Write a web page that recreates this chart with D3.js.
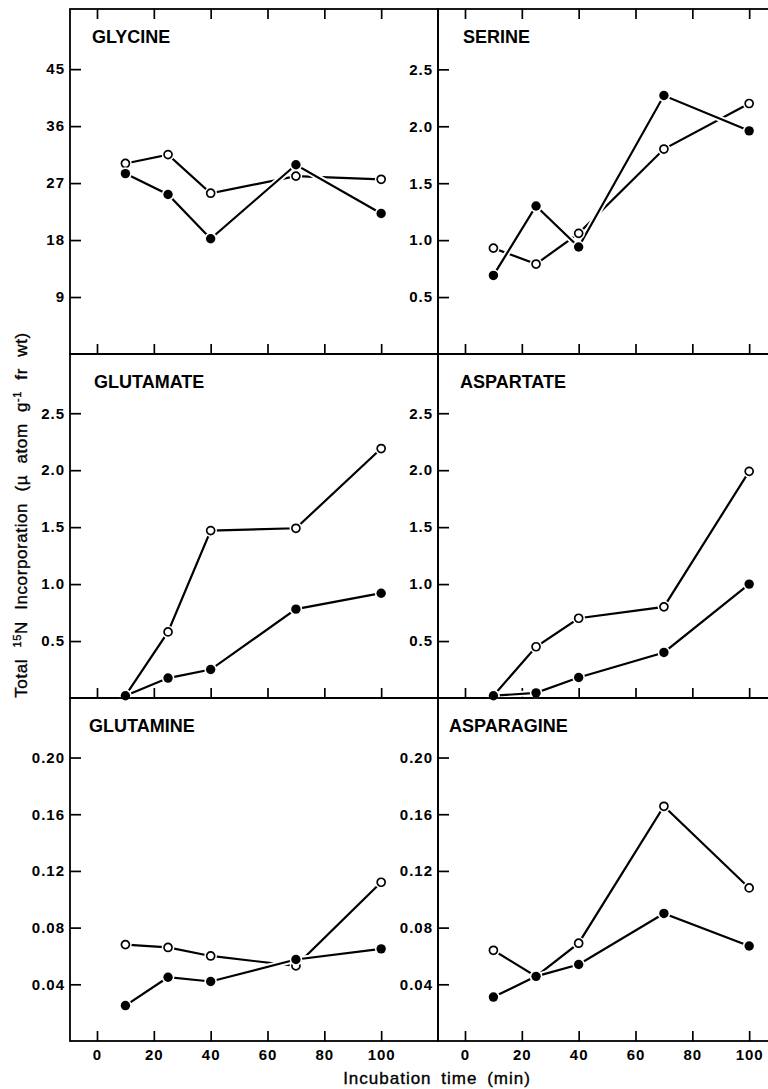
<html>
<body style="margin:0;background:#fff">
<svg class="chart"></svg>
</body>
<style>
  .chart text { font-family: "Liberation Sans", Arial, sans-serif; fill: #000; }
  .tick text { font-size: 15px; font-weight: bold; letter-spacing: 1px; }
  .tick line { stroke: #000; stroke-width: 1.7; }
  .panel-title { font-size: 18px; font-weight: bold; }
  .axis-title { font-size: 17px; stroke: #000; stroke-width: 0.35px; }
</style>

<script src="https://d3js.org/d3.v7.min.js"></script>
<script>
  // sampling times (min) and x tick labels
  var times = [10, 25, 40, 70, 100];
  var xTicks = [0, 20, 40, 60, 80, 100];

  var names = ["GLYCINE", "SERINE", "GLUTAMATE", "ASPARTATE", "GLUTAMINE", "ASPARAGINE"];

  // open circles / filled circles
  var glycineOpen = [30.1, 31.5, 25.4, 28.1, 27.6];
  var glycineFilled = [28.5, 25.2, 18.2, 29.9, 22.2];
  var serineOpen = [0.93, 0.79, 1.06, 1.80, 2.20];
  var serineFilled = [0.69, 1.30, 0.94, 2.27, 1.96];
  var glutamateOpen = [0.02, 0.58, 1.47, 1.49, 2.19];
  var glutamateFilled = [0.02, 0.175, 0.25, 0.78, 0.92];
  var aspartateOpen = [0.02, 0.45, 0.70, 0.80, 1.99];
  var aspartateFilled = [0.02, 0.045, 0.18, 0.40, 1.00];
  var glutamineOpen = [0.068, 0.066, 0.060, 0.053, 0.112];
  var glutamineFilled = [0.025, 0.045, 0.042, 0.0575, 0.065];
  var asparagineOpen = [0.064, 0.0456, 0.069, 0.1656, 0.108];
  var asparagineFilled = [0.031, 0.0456, 0.054, 0.090, 0.067];

  // y ticks and axis tops
  var glycineTicks = [9, 18, 27, 36, 45];
  var halfTicks = [0.5, 1.0, 1.5, 2.0, 2.5];
  var smallTicks = [0.04, 0.08, 0.12, 0.16, 0.20];
  var yMax = [54.5, 3.03, 3.02, 3.02, 0.242, 0.242];

  var width = 768;
  var height = 1089;
  var colLeft = [70, 438];
  var colWidth = 368;
  var rowTop = [9, 354, 698];
  var rowHeight = [345, 344, 343];
  var titleDx = [22, 25, 24, 22, 19, 11];

  var panels = [
    {name: names[0], open: glycineOpen, filled: glycineFilled, ticks: glycineTicks, fmt: d3.format("d")},
    {name: names[1], open: serineOpen, filled: serineFilled, ticks: halfTicks, fmt: d3.format(".1f")},
    {name: names[2], open: glutamateOpen, filled: glutamateFilled, ticks: halfTicks, fmt: d3.format(".1f")},
    {name: names[3], open: aspartateOpen, filled: aspartateFilled, ticks: halfTicks, fmt: d3.format(".1f")},
    {name: names[4], open: glutamineOpen, filled: glutamineFilled, ticks: smallTicks, fmt: d3.format(".2f")},
    {name: names[5], open: asparagineOpen, filled: asparagineFilled, ticks: smallTicks, fmt: d3.format(".2f")}
  ];

  var chart = d3.select(".chart")
    .attr("width", width)
    .attr("height", height)
    .style("display", "block")
    .style("overflow", "hidden");

  panels.forEach(function(p, i) {
    var row = Math.floor(i / 2), col = i % 2;
    var left = colLeft[col], top = rowTop[row], h = rowHeight[row];

    var xScale = d3.scaleLinear().domain([-9.5, 120]).range([0, colWidth]);
    var yScale = d3.scaleLinear().domain([0, yMax[i]]).range([h, 0]);

    var g = chart.append("g")
      .attr("transform", "translate(" + left + "," + top + ")");

    g.append("rect")
      .attr("width", colWidth)
      .attr("height", h)
      .attr("fill", "none")
      .attr("stroke", "#000")
      .attr("stroke-width", 1.8);

    // left ticks, inward
    g.append("g")
      .attr("class", "y-axis")
      .call(d3.axisLeft(yScale).tickValues(p.ticks).tickFormat(p.fmt)
        .tickSizeInner(-11).tickSizeOuter(0).tickPadding(5))
      .call(function(a) { a.select(".domain").remove(); });

    // bottom ticks, inward; labels only on the last row
    var bottom = d3.axisBottom(xScale).tickValues(xTicks)
      .tickSizeInner(-10).tickSizeOuter(0).tickPadding(8);
    if (row < 2) bottom.tickFormat("");
    g.append("g")
      .attr("class", "x-axis")
      .attr("transform", "translate(0," + h + ")")
      .call(bottom)
      .call(function(a) { a.select(".domain").remove(); });

    if (row === 0) {
      g.append("g")
        .attr("class", "x-axis-top")
        .call(d3.axisTop(xScale).tickValues(xTicks).tickFormat("")
          .tickSizeInner(-10).tickSizeOuter(0))
        .call(function(a) { a.select(".domain").remove(); });
    }

    g.append("text")
      .attr("class", "panel-title")
      .attr("x", titleDx[i])
      .attr("y", 34)
      .text(p.name);

    var line = d3.line()
      .x(function(d, k) { return xScale(times[k]); })
      .y(function(d) { return yScale(d); });

    g.append("path")
      .attr("d", line(p.open))
      .attr("fill", "none")
      .attr("stroke", "#000")
      .attr("stroke-width", 2.2);

    // white halo so the filled series breaks the open one where they cross
    g.append("path")
      .attr("d", line(p.filled))
      .attr("fill", "none")
      .attr("stroke", "#fff")
      .attr("stroke-width", 6);
    g.append("path")
      .attr("d", line(p.filled))
      .attr("fill", "none")
      .attr("stroke", "#000")
      .attr("stroke-width", 2.2);

    [["open", p.open], ["filled", p.filled]].forEach(function(s) {
      var pts = g.selectAll("g." + s[0]).data(s[1]).enter().append("g")
        .attr("class", s[0])
        .attr("transform", function(d, k) { return "translate(" + xScale(times[k]) + "," + yScale(d) + ")"; });
      pts.append("circle").attr("r", 6.3).attr("fill", "#fff");
      if (s[0] === "open") {
        pts.append("circle").attr("r", 4).attr("fill", "#fff")
          .attr("stroke", "#000").attr("stroke-width", 1.7);
      } else {
        pts.append("circle").attr("r", 4.7).attr("fill", "#000");
      }
    });
  });

  chart.append("text")
    .attr("class", "axis-title")
    .attr("x", 437)
    .attr("y", 1084)
    .attr("text-anchor", "middle")
    .style("letter-spacing", "1px")
    .style("word-spacing", "4px")
    .text("Incubation time (min)");

  var yTitle = chart.append("text")
    .attr("class", "axis-title")
    .attr("transform", "translate(27,515) rotate(-90)")
    .attr("text-anchor", "middle")
    .style("letter-spacing", "0.6px")
    .style("word-spacing", "6px");
  yTitle.append("tspan").text("Total ");
  yTitle.append("tspan").attr("dy", -6).style("font-size", "11px").text("15");
  yTitle.append("tspan").attr("dy", 6).text("N Incorporation (\u00b5 atom g");
  yTitle.append("tspan").attr("dy", -6).style("font-size", "11px").text("-1");
  yTitle.append("tspan").attr("dy", 6).text(" fr wt)");
</script>
</html>
